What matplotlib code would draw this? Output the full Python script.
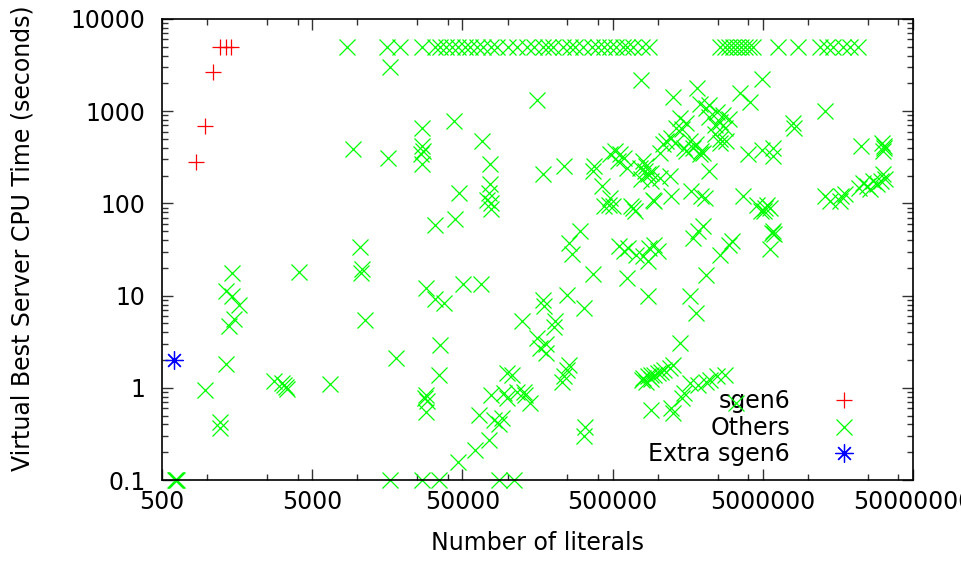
import numpy as np
import matplotlib
matplotlib.use('Agg')
import matplotlib.pyplot as plt
from matplotlib.ticker import FixedLocator, LogLocator, NullFormatter

# sgen6 instances (literals, seconds)
sgen6_x = [843, 967, 1090, 1220, 1330, 1450]
sgen6_y = [281, 689, 2670, 5000, 5000, 5000]

# extra sgen6
extra_x = [600]
extra_y = [2.0]

# timeouts of the other instances (all at 5000 s)
timeout_x = [8500, 15700, 19300, 26900, 33000, 35600, 39100, 42900, 47000,
             52300, 56500, 63000, 69000, 77000, 85500, 101000, 116000, 135000,
             149000, 173000, 187000, 202000, 232000, 262000, 283000, 319000,
             366000, 397000, 435000, 483000, 530000, 583000, 620000, 680000,
             780000, 880000, 2.58e6, 2.8e6, 2.97e6, 3.15e6, 3.35e6, 3.56e6,
             3.8e6, 4.04e6, 4.29e6, 6.3e6, 8.55e6, 1.2e7, 1.34e7, 1.46e7,
             1.7e7, 1.9e7, 2.15e7]

# the other instances that were solved
solved = [
    (610, 0.1), (616, 0.1), (622, 0.1), (628, 0.1),
    (1460, 17.6), (4100, 17.9), (1335, 11.3), (1460, 9.8), (1640, 8.0),
    (1510, 5.6), (1390, 4.65), (1335, 1.81), (967, 0.95), (1217, 0.425),
    (1210, 0.37), (2800, 1.19), (3150, 1.12), (3250, 1.06), (3350, 1.02),
    (3400, 0.98), (6600, 1.1),
    (16500, 3020), (43700, 780), (9400, 385), (15900, 313),
    (26900, 650), (26900, 420), (27200, 370), (26600, 340), (26900, 265),
    (47200, 131), (32700, 59), (44800, 67),
    (10450, 34), (10700, 19.2), (10500, 17.5), (11250, 5.4),
    (28700, 12.1), (32700, 9.1), (37500, 8.3), (50500, 13.2), (66000, 13.2),
    (18100, 2.1), (35600, 2.93), (34800, 1.38),
    (28700, 0.84), (28300, 0.78), (29000, 0.72), (28700, 0.55),
    (47000, 0.158),
    (16500, 0.1), (26900, 0.1), (34800, 0.1), (87000, 0.1), (110000, 0.1),
    (157000, 1320), (67600, 474), (76000, 265), (76000, 161), (75000, 131),
    (73000, 110), (77000, 102), (77000, 86),
    (172000, 206), (236000, 254), (375000, 254), (370000, 224), (425000, 154),
    (435000, 93), (470000, 95), (483000, 340),
    (305000, 50), (255000, 37), (269000, 28), (370000, 17), (249000, 10.2),
    (172000, 9.0), (175000, 7.7), (321000, 7.4),
    (125000, 5.3), (208000, 5.3), (203000, 4.6),
    (157000, 3.5), (180000, 3.0), (165000, 2.7), (180000, 2.4),
    (255000, 1.78), (249000, 1.57), (236000, 1.33), (230000, 1.17),
    (99000, 1.44), (107000, 1.38),
    (77000, 0.84), (94000, 0.88), (99000, 0.77), (116000, 0.91),
    (128000, 0.91), (131000, 0.84), (142000, 0.68),
    (64000, 0.51), (81000, 0.45), (87000, 0.41), (92000, 0.47),
    (75000, 0.27), (61000, 0.21), (330000, 0.38), (321000, 0.30),
    (776000, 2170), (1.26e6, 1420), (1.82e6, 1800), (3.5e6, 1560),
    (4.08e6, 1260), (4.95e6, 2260),
    (1.4e6, 850), (1.55e6, 750), (1.33e6, 662), (1.44e6, 635),
    (1.9e6, 1210), (2.1e6, 1070), (2.2e6, 1160), (2.46e6, 980), (2.72e6, 905),
    (3.0e6, 833), (2.2e6, 868), (2.39e6, 705), (2.58e6, 765), (2.8e6, 650),
    (2.58e6, 495), (2.39e6, 560), (2.6e6, 455), (2.85e6, 474),
    (1.63e6, 474), (1.8e6, 437), (1.72e6, 402), (1.95e6, 369),
    (1.08e6, 437), (1.14e6, 474), (1.23e6, 516), (1.3e6, 455), (1.03e6, 355),
    (1.5e6, 400), (1.55e6, 370), (1.9e6, 340), (2.0e6, 355),
    (520000, 369), (560000, 340), (600000, 313), (540000, 288), (620000, 244),
    (797000, 288), (840000, 254), (819000, 224), (907000, 215), (1.03e6, 190),
    (1.2e6, 198), (760000, 244), (776000, 182), (860000, 206), (907000, 175),
    (2.2e6, 224), (483000, 115), (500000, 93),
    (665000, 93), (700000, 82), (683000, 90), (930000, 110), (950000, 106),
    (1.23e6, 120), (1.67e6, 136), (1.95e6, 120), (2.05e6, 115),
    (3.7e6, 120), (4.55e6, 97), (4.9e6, 82),
    (2.0e6, 56.5), (1.86e6, 49.8), (1.72e6, 42),
    (3.1e6, 38.8), (2.97e6, 35.7), (2.58e6, 27.8),
    (2.1e6, 16.9), (1.63e6, 9.8), (1.8e6, 6.5), (1.4e6, 3.05), (860000, 9.8),
    (620000, 15.6),
    (555000, 34.2), (600000, 30.2), (632000, 32.7), (720000, 27.8),
    (797000, 26.7), (880000, 32.7), (950000, 35.7), (1.0e6, 30.2),
    (860000, 23.6),
    (780000, 1.22), (797000, 1.27), (860000, 1.33), (907000, 1.38),
    (950000, 1.38), (1.0e6, 1.44), (1.05e6, 1.5), (1.1e6, 1.57), (1.2e6, 1.63),
    (1.26e6, 1.78), (830000, 1.15), (900000, 1.25),
    (1.63e6, 1.12), (1.85e6, 1.08), (2.1e6, 1.17), (2.23e6, 1.22),
    (2.46e6, 1.33), (2.8e6, 1.38),
    (1.5e6, 0.876), (1.45e6, 0.77), (907000, 0.577), (1.23e6, 0.6),
    (1.26e6, 0.53), (3.33e6, 0.68),
    (1.3e7, 1000), (7.9e6, 750), (8.1e6, 650), (2.27e7, 418),
    (3.1e7, 455), (3.2e7, 400), (3.15e7, 370), (3.2e7, 420),
    (1.3e7, 120), (1.4e7, 106), (1.67e7, 120), (1.76e7, 125), (1.64e7, 106),
    (2.2e7, 148), (2.33e7, 168), (2.46e7, 154), (2.72e7, 174), (2.86e7, 161),
    (3.17e7, 206), (3.25e7, 182), (3.08e7, 174), (2.6e7, 142),
    (5.86e6, 402), (5.86e6, 328), (4.95e6, 380), (4.0e6, 340),
    (5.35e6, 97), (5.6e6, 90), (5.1e6, 82), (5.2e6, 90),
    (5.8e6, 48), (5.9e6, 46), (5.85e6, 50), (5.6e6, 32),
]

others_x = timeout_x + [p[0] for p in solved]
others_y = [5000] * len(timeout_x) + [p[1] for p in solved]

xticks = [500, 5000, 50000, 500000, 5000000, 50000000]
yticks = [0.1, 1, 10, 100, 1000, 10000]

plt.rcParams['font.family'] = ['DejaVu Sans']
fs = 17

fig = plt.figure(figsize=(9.62, 5.61), dpi=100)
ax = fig.add_axes([162 / 962, 1 - 480 / 561, 751 / 962, 461 / 561])

ax.plot(sgen6_x, sgen6_y, ls='none', marker='+', ms=12, mew=0.9,
        color='#ff0000', label='sgen6', clip_on=False)
ax.plot(others_x, others_y, ls='none', marker='x', ms=12, mew=0.9,
        color='#00ff00', label='Others', clip_on=False)
ax.plot(extra_x, extra_y, ls='none', marker=(8, 2, 0), ms=13, mew=0.9,
        color='#0000ff', label='Extra sgen6', clip_on=False)

ax.set_xscale('log')
ax.set_yscale('log')
ax.set_xlim(500, 5e7)
ax.set_ylim(0.1, 10000)

ax.xaxis.set_major_locator(FixedLocator(xticks))
ax.set_xticklabels([str(v) for v in xticks])
minor_x = [t * f for t in xticks[:-1] for f in (2, 5, 8)]
ax.xaxis.set_minor_locator(FixedLocator(minor_x))
ax.xaxis.set_minor_formatter(NullFormatter())

ax.yaxis.set_major_locator(FixedLocator(yticks))
ax.set_yticklabels(['0.1', '1', '10', '100', '1000', '10000'])
ax.yaxis.set_minor_locator(LogLocator(base=10, subs=np.arange(2, 10)))
ax.yaxis.set_minor_formatter(NullFormatter())

ax.tick_params(which='both', direction='in', top=True, right=True,
               color='#333333', width=1.0)
ax.tick_params(which='major', length=8, labelsize=fs)
ax.tick_params(which='minor', length=4)
ax.tick_params(axis='x', which='major', pad=7)
ax.tick_params(axis='y', which='major', pad=12)
for s in ax.spines.values():
    s.set_linewidth(1.2)

ax.set_xlabel('Number of literals', fontsize=fs)
ax.xaxis.set_label_coords(0.5, -0.137)
ax.xaxis.label.set_va('center')
ax.set_ylabel('Virtual Best Server CPU Time (seconds)', fontsize=fs)
ax.yaxis.set_label_coords(-0.186, 0.525)
ax.yaxis.label.set_va('center')

leg = ax.legend(loc='lower right', bbox_to_anchor=(0.940, 0.03),
                markerfirst=False, frameon=False, fontsize=fs,
                handlelength=2.0, handletextpad=1.3, labelspacing=0.1,
                borderpad=0, borderaxespad=0)
leg.set_zorder(1)

fig.savefig('out.png', dpi=100)
